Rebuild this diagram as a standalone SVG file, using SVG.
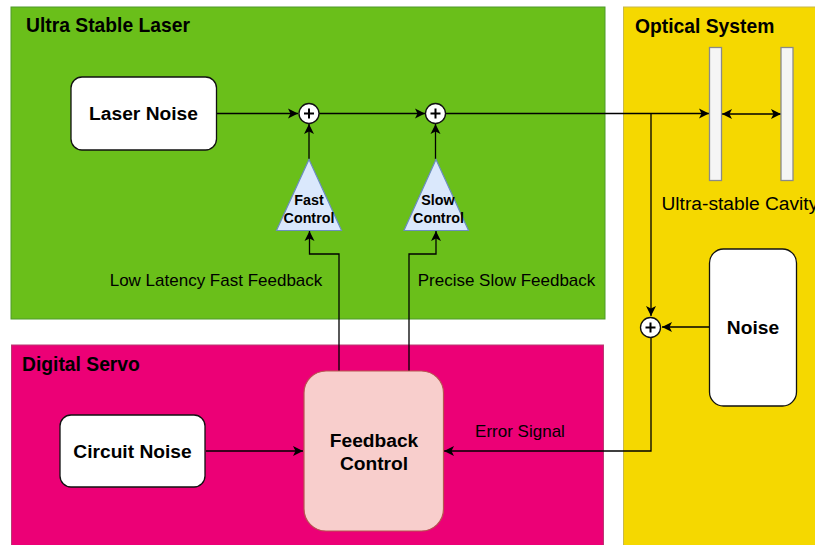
<svg xmlns="http://www.w3.org/2000/svg" width="815" height="545" viewBox="0 0 815 545">
<style>
text{font-family:"Liberation Sans",Arial,sans-serif;fill:#000;text-anchor:middle}
.t{font-size:19.3px;font-weight:bold;text-anchor:start}
.n{font-size:19.2px;font-weight:bold}
.l{font-size:17px}
.s{font-size:14.3px;font-weight:bold}
.cav{font-size:19.2px;text-anchor:start}
.c{fill:none;stroke:#000;stroke-width:1.3}
.b{fill:#fff;stroke:#111;stroke-width:1.3}
.p{fill:#fff;stroke:#111;stroke-width:1.3}
.x{fill:none;stroke:#000;stroke-width:2}
.tri{fill:#dae8fc;stroke:#6c8ebf;stroke-width:1.2}
.m{fill:#f5f5f5;stroke:#8a8a8a;stroke-width:1.3}
</style>
<defs>
<marker id="a" markerUnits="userSpaceOnUse" markerWidth="12" markerHeight="12" refX="10" refY="6" orient="auto-start-reverse">
<path d="M0 1 L10 6 L0 11 L2.500 6 Z" fill="#000"/>
</marker>
</defs>
<rect width="815" height="545" fill="#fff"/>
<g id="ultra-stable-laser"><rect x="11" y="7" width="594" height="312" fill="#6abf1a" stroke="#4f9a2b"/><text class="t" x="26" y="32">Ultra Stable Laser</text></g>
<g id="digital-servo"><rect x="11.500" y="345" width="592" height="201" fill="#ec0076" stroke="#b83a72"/><text class="t" x="22" y="371">Digital Servo</text></g>
<g id="optical-system"><rect x="623.500" y="7" width="193" height="539" fill="#f5d800" stroke="#c8b84a"/><text class="t" x="635" y="33">Optical System</text></g>
<g id="connectors">
<path class="c" d="M217 113.500H298" marker-end="url(#a)"/>
<path class="c" d="M319 113.500H425" marker-end="url(#a)"/>
<path class="c" d="M446 113.500H709" marker-end="url(#a)"/>
<path class="c" d="M309 159V124" marker-end="url(#a)"/>
<path class="c" d="M435.500 159V124" marker-end="url(#a)"/>
<path class="c" d="M339 371V254H309.500V231" marker-end="url(#a)"/>
<path class="c" d="M409 371V254H436V231" marker-end="url(#a)"/>
<path class="c" d="M722 114H781" marker-start="url(#a)" marker-end="url(#a)"/>
<path class="c" d="M651 114V316" marker-end="url(#a)"/>
<path class="c" d="M709 327H662" marker-end="url(#a)"/>
<path class="c" d="M651 338V451H444" marker-end="url(#a)"/>
<path class="c" d="M206 451H303" marker-end="url(#a)"/>
</g>
<g id="laser-noise"><rect class="b" x="71" y="77" width="145.500" height="73" rx="11"/><text class="n" x="143.500" y="120">Laser Noise</text></g>
<g id="sum-1"><circle class="p" cx="309" cy="113.500" r="10"/><path class="x" d="M304 113.500H314M309 108.500V118.500"/></g>
<g id="sum-2"><circle class="p" cx="435.500" cy="113.500" r="10"/><path class="x" d="M430.500 113.500H440.500M435.500 108.500V118.500"/></g>
<g id="fast-control"><path class="tri" d="M309 159.500L341.500 230.500H276.500Z"/><text class="s" x="309" y="205">Fast</text><text class="s" x="309" y="223">Control</text></g>
<g id="slow-control"><path class="tri" d="M436 159.500L468.500 230.500H404Z"/><text class="s" x="438" y="205">Slow</text><text class="s" x="438.500" y="223">Control</text></g>
<g id="mirror-1"><rect class="m" x="709.500" y="47.500" width="12" height="133"/></g>
<g id="mirror-2"><rect class="m" x="781" y="47.500" width="12" height="133"/></g>
<g id="cavity-label"><text class="cav" x="661.500" y="210">Ultra-stable Cavity</text></g>
<g id="noise"><rect class="b" x="709.500" y="249" width="87" height="157" rx="14"/><text class="n" x="753" y="334">Noise</text></g>
<g id="sum-3"><circle class="p" cx="650.500" cy="327.500" r="10"/><path class="x" d="M645.500 327.500H655.500M650.500 322.500V332.500"/></g>
<g id="circuit-noise"><rect class="b" x="60" y="415" width="145" height="72" rx="11"/><text class="n" x="132.500" y="458">Circuit Noise</text></g>
<g id="feedback-control"><rect x="304" y="371" width="139.500" height="160" rx="22" fill="#f8cecc" stroke="#b85450" stroke-width="1.200"/><text class="n" x="374" y="447">Feedback</text><text class="n" x="374" y="470">Control</text></g>
<g id="labels">
<text class="l" x="216" y="286">Low Latency Fast Feedback</text>
<text class="l" x="506.500" y="286">Precise Slow Feedback</text>
<text class="l" x="520" y="437">Error Signal</text>
</g>
</svg>
